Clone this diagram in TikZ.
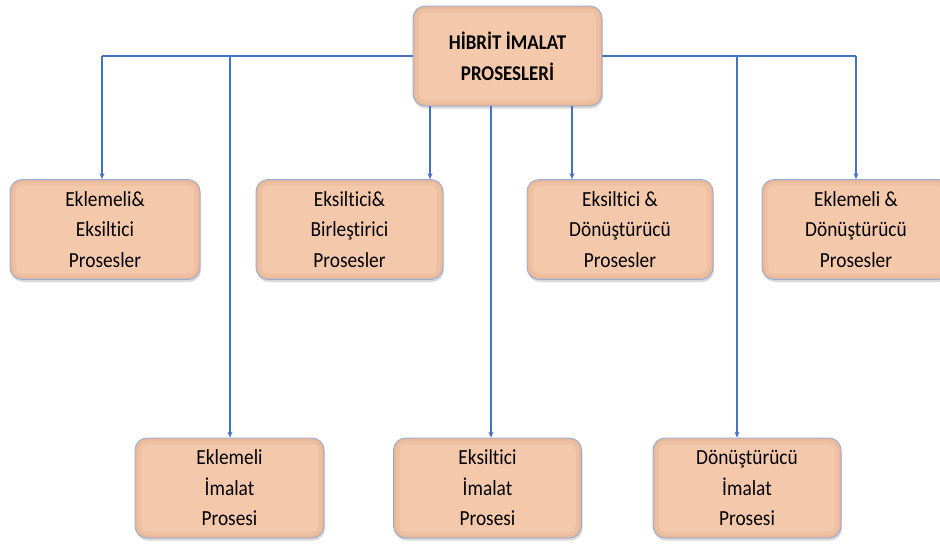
\documentclass[tikz,border=0pt]{standalone}
\usepackage{fontspec}
\setmainfont[Ligatures={NoCommon}, RawFeature={-liga}, FakeStretch=0.9]{Carlito}
\usetikzlibrary{arrows.meta,shadows}
\definecolor{peach}{HTML}{F4C8AB}
\definecolor{bevel}{HTML}{DDA686}
\definecolor{boxline}{HTML}{8FAADC}
\definecolor{conncol}{HTML}{4472C4}
\begin{document}
\begin{tikzpicture}[x=1pt,y=-1pt,
  procbox/.style={draw=boxline, line width=0.8pt, rounded corners=12pt,
    fill=peach,
    path picture={
      \draw[bevel, line width=12pt, opacity=.22, rounded corners=12pt]
        (path picture bounding box.south west) rectangle (path picture bounding box.north east);
      \draw[bevel, line width=5pt, opacity=.3, rounded corners=12pt]
        (path picture bounding box.south west) rectangle (path picture bounding box.north east);
    },
    minimum width=188pt, minimum height=100pt, inner sep=0pt, align=center,
    font=\fontsize{21.5}{30.5}\selectfont,
    drop shadow={shadow xshift=1pt, shadow yshift=-2.5pt, opacity=.3}},
  conn/.style={draw=conncol, line width=1.1pt},
  arr/.style={conn, -{Stealth[length=6pt,width=5pt]}}]
\useasboundingbox (0,0) rectangle (940,544);
\node[procbox, minimum width=189pt, font=\fontsize{21}{31}\selectfont\bfseries] (top) at (507.5,56) {HİBRİT İMALAT\\PROSESLERİ};
\node[procbox, minimum width=190pt] (b1) at (105,229.5) {Eklemeli\&\\Eksiltici\\Prosesler};
\node[procbox, minimum width=187pt] (b2) at (349.5,229.5) {Eksiltici\&\\Birleştirici\\Prosesler};
\node[procbox, minimum width=186pt] (b3) at (620,229.5) {Eksiltici \&\\Dönüştürücü\\Prosesler};
\node[procbox] (b4) at (856,229.5) {Eklemeli \&\\Dönüştürücü\\Prosesler};
\node[procbox, minimum width=189pt] (b5) at (229.5,488) {Eklemeli\\İmalat\\Prosesi};
\node[procbox] (b6) at (487.5,488) {Eksiltici\\İmalat\\Prosesi};
\node[procbox] (b7) at (747,488) {Dönüştürücü\\İmalat\\Prosesi};
\coordinate (jl) at (102,56);
\coordinate (jr) at (856,56);
\coordinate (j5) at (230,56);
\coordinate (j7) at (737,56);
% horizontal lines
\draw[conn] (top.west) -- (jl);
\draw[conn] (top.east) -- (jr);
% arrows to row 1
\draw[arr] (jl) -- (b1.north -| jl);
\draw[arr] (top.south -| 430,0) -- (b2.north -| 430,0);
\draw[arr] (top.south -| 572,0) -- (b3.north -| 572,0);
\draw[arr] (jr) -- (b4.north);
% arrows to row 2
\draw[arr] (j5) -- (b5.north -| j5);
\draw[arr] (top.south -| 491,0) -- (b6.north -| 491,0);
\draw[arr] (j7) -- (b7.north -| j7);
\end{tikzpicture}
\end{document}
